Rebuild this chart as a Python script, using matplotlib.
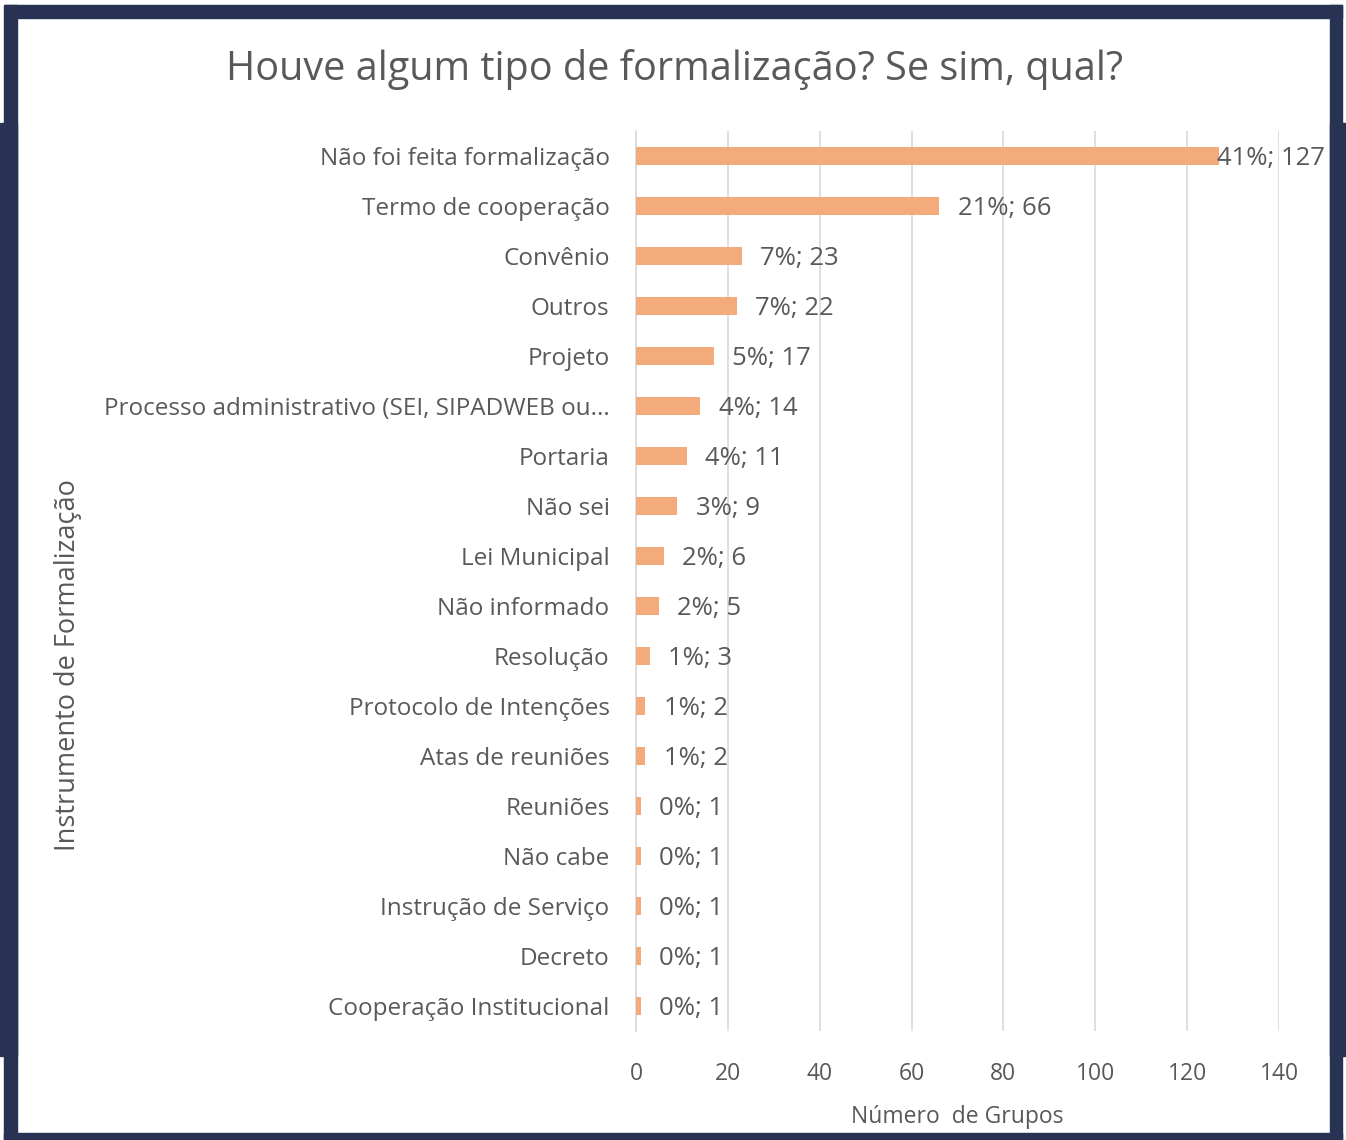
import matplotlib.pyplot as plt
from matplotlib.patches import Rectangle

# dados
categorias = ["Não foi feita formalização", "Termo de cooperação", "Convênio", "Outros",
              "Projeto", "Processo administrativo (SEI, SIPADWEB ou...", "Portaria",
              "Não sei", "Lei Municipal", "Não informado", "Resolução",
              "Protocolo de Intenções", "Atas de reuniões", "Reuniões", "Não cabe",
              "Instrução de Serviço", "Decreto", "Cooperação Institucional"]
grupos = [127, 66, 23, 22, 17, 14, 11, 9, 6, 5, 3, 2, 2, 1, 1, 1, 1, 1]
percentuais = [41, 21, 7, 7, 5, 4, 4, 3, 2, 2, 1, 1, 1, 0, 0, 0, 0, 0]
xticks = [0, 20, 40, 60, 80, 100, 120, 140]

cinza = "#595959"
laranja = "#F4AB7C"
azul = "#283253"
fonte = "Open Sans"

W, H = 1346, 1140
fig = plt.figure(figsize=(W / 100, H / 100), dpi=100)

# moldura azul escura (em pixels)
def px_rect(x0, y0, x1, y1):
    fig.patches.append(Rectangle((x0 / W, 1 - y1 / H), (x1 - x0) / W, (y1 - y0) / H,
                                 transform=fig.transFigure, color=azul, zorder=0))

px_rect(5, 5, 1342, 18)       # topo
px_rect(4, 5, 17, 1140)       # esquerda
px_rect(0, 123, 17, 1056)     # esquerda extendida
px_rect(1330, 5, 1342, 1140)  # direita
px_rect(1330, 123, 1346, 1056)
px_rect(4, 1133, 1342, 1140)  # base

ax = fig.add_axes([636 / W, 109 / H, 643 / W, 900 / H])
y = list(range(len(categorias)))
ax.barh(y, grupos, height=0.36, color=laranja, zorder=3)
ax.set_ylim(len(categorias) - 0.5, -0.5)
ax.set_xlim(0, 140)
ax.set_xticks(xticks)
ax.set_yticks(y)
ax.set_yticklabels(categorias, fontsize=17.5, color=cinza, family=fonte)
ax.tick_params(axis="x", labelsize=16.5, colors=cinza, length=0, pad=22)
ax.tick_params(axis="y", length=0, pad=19)
for lbl in ax.get_xticklabels():
    lbl.set_family(fonte)

ax.grid(axis="x", color="#d9d9d9", linewidth=1.2, zorder=0)
for s in ["top", "right", "bottom"]:
    ax.spines[s].set_visible(False)
ax.spines["left"].set_color("#d9d9d9")
ax.spines["left"].set_linewidth(1.2)

for i, (v, p) in enumerate(zip(grupos, percentuais)):
    xpos = min(v + 4, 126.5)
    ax.text(xpos, i + 0.05, f"{p}%; {v}", va="center", ha="left", fontsize=18.5,
            color=cinza, family=fonte, zorder=4)

ax.set_xlabel("Número  de Grupos", fontsize=16.5, color=cinza, family=fonte)
ax.xaxis.set_label_coords(0.5, -(1117 - 1031) / 900, transform=ax.transAxes)
ax.xaxis.label.set_va("center")
ax.set_ylabel("Instrumento de Formalização", fontsize=19.5, color=cinza, family=fonte)
ax.yaxis.set_label_coords(-568 / 643, 1 - (665 - 131) / 900)
ax.yaxis.label.set_va("center")

fig.text(675 / W, 1 - 70 / H, "Houve algum tipo de formalização? Se sim, qual?",
         ha="center", va="center", fontsize=28.5, color=cinza, family=fonte)

fig.savefig("out.png", dpi=100)
